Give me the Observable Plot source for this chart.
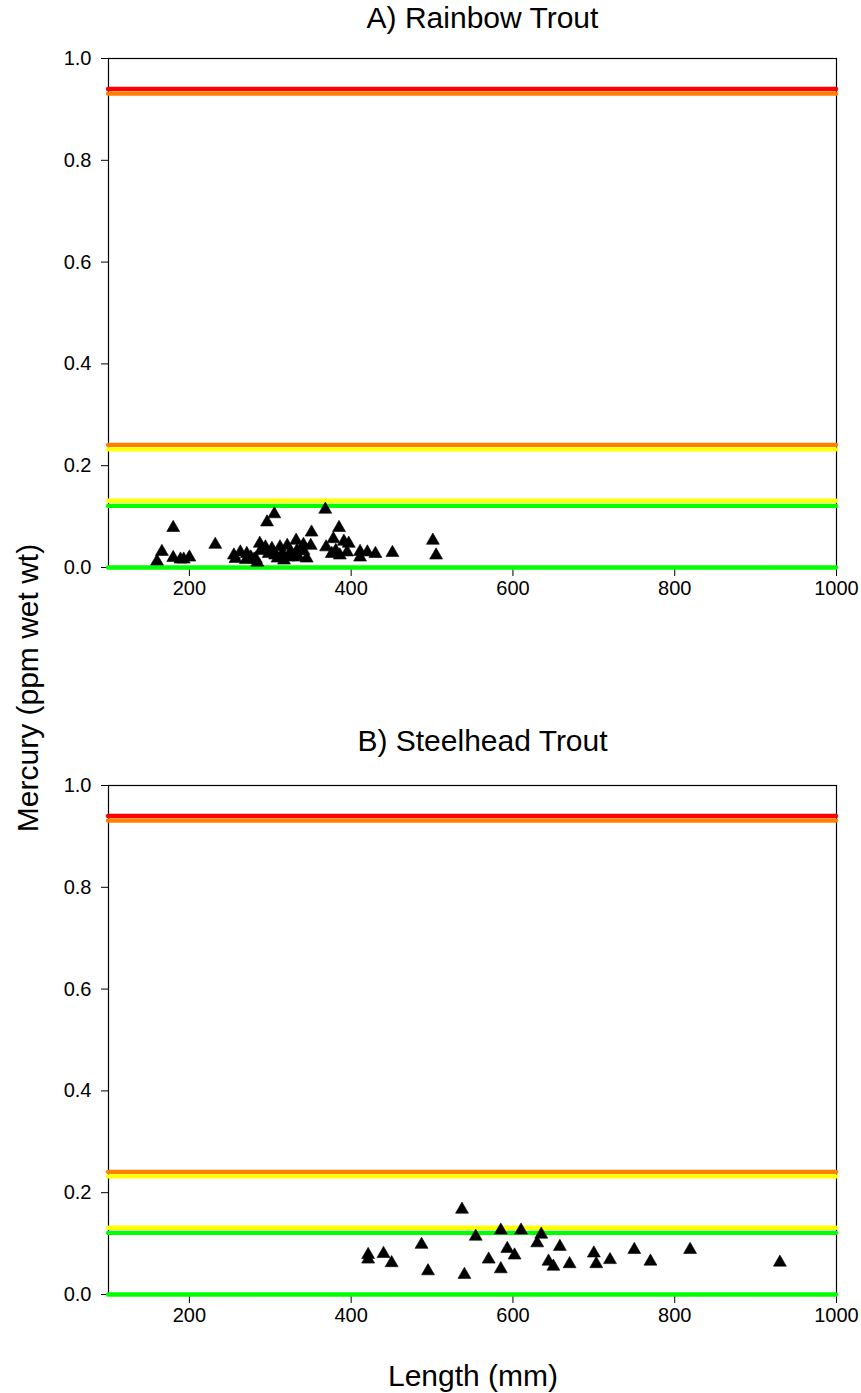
<!DOCTYPE html>
<html>
<head>
<meta charset="utf-8">
<script src="https://cdn.jsdelivr.net/npm/d3@7"></script>
<script src="https://cdn.jsdelivr.net/npm/@observablehq/plot@0.6"></script>
<style>
  body { margin: 0; background: #fff; }
  #wrap { position: relative; width: 861px; height: 1393px; font-family: "Liberation Sans", Arial, sans-serif; color: #000; }
  .panel { position: absolute; left: 0; }
  .title { position: absolute; left: 0; width: 861px; padding-left: 104px; box-sizing: border-box; text-align: center; font-size: 30px; line-height: 1; }
  .xlab { position: absolute; left: 0; width: 861px; padding-left: 85px; box-sizing: border-box; text-align: center; font-size: 30px; line-height: 1; }
  .ylab { position: absolute; font-size: 30px; line-height: 1; white-space: nowrap; transform: translate(-50%, -50%) rotate(-90deg); }
</style>
</head>
<body>
<div id="wrap"></div>
<script>
// threshold lines
const thresholdValues = [0.94, 0.931, 0.241, 0.232, 0.131, 0.121, 0.0];
const thresholdColors = ["#ff0000", "#ff8000", "#ff8000", "#ffff00", "#ffff00", "#00ff00", "#00ff00"];

// A) Rainbow Trout
const rainbowLength = [160,166,180,180,189,193,200,232,255,257,263,270,271,276,280,282,284,287,288,294,296,298,302,305,306,309,312,315,317,321,322,325,327,332,333,335,341,341,345,350,351,368,369,376,378,381,385,386,391,395,397,411,411,420,430,451,501,505];
const rainbowHg = [0.012,0.031,0.078,0.019,0.016,0.016,0.020,0.045,0.024,0.017,0.030,0.015,0.027,0.020,0.016,0.017,0.010,0.047,0.033,0.040,0.089,0.027,0.037,0.105,0.024,0.018,0.040,0.027,0.014,0.043,0.020,0.030,0.022,0.053,0.033,0.020,0.045,0.033,0.018,0.043,0.069,0.114,0.040,0.027,0.056,0.033,0.078,0.024,0.051,0.030,0.047,0.031,0.020,0.030,0.027,0.029,0.053,0.024];

// B) Steelhead Trout
const steelLength = [421,421,440,450,487,495,537,540,554,570,585,585,593,602,610,630,635,644,650,658,670,700,703,720,750,770,819,930];
const steelHg = [0.078,0.069,0.080,0.062,0.098,0.046,0.167,0.039,0.114,0.069,0.126,0.050,0.090,0.077,0.126,0.101,0.118,0.065,0.055,0.094,0.060,0.081,0.060,0.068,0.088,0.065,0.088,0.063];

const xTicks = [200, 400, 600, 800, 1000];
const yTicks = [0, 0.2, 0.4, 0.6, 0.8, 1.0];
const titles = ["A) Rainbow Trout", "B) Steelhead Trout"];

const lines = thresholdValues.map((v, i) => ({value: v, color: thresholdColors[i]}));

function panel(xs, ys) {
  const pts = xs.map((x, i) => ({x, y: ys[i]}));
  return Plot.plot({
    width: 861,
    height: 620,
    marginTop: 58,
    marginBottom: 53,
    marginLeft: 108,
    marginRight: 25,
    style: {fontFamily: "'Liberation Sans', Arial, sans-serif", fontSize: "20px", overflow: "visible", background: "transparent"},
    x: {domain: [100, 1000]},
    y: {domain: [0, 1]},
    color: {type: "identity"},
    marks: [
      Plot.frame({stroke: "#000", strokeWidth: 1.2}),
      Plot.axisY({ticks: yTicks, tickFormat: ".1f", tickSize: 7, tickPadding: 10, label: null, stroke: "#000"}),
      Plot.axisX({ticks: xTicks, tickFormat: d => String(d), tickSize: 9, tickPadding: 4, label: null, stroke: "#000"}),
      Plot.ruleY(lines, {y: "value", stroke: "color", strokeWidth: 4.4, strokeLinecap: "round"}),
      Plot.dot(pts, {x: "x", y: "y", symbol: "triangle", r: 4.8, fill: "#000", stroke: "#000", strokeWidth: 0.6})
    ]
  });
}

const wrap = document.getElementById("wrap");
const tops = [0, 727];
const data = [[rainbowLength, rainbowHg], [steelLength, steelHg]];
const titleY = [3, 726];
data.forEach((d, i) => {
  const t = document.createElement("div");
  t.className = "title";
  t.style.top = titleY[i] + "px";
  t.textContent = titles[i];
  wrap.appendChild(t);
  const svg = panel(d[0], d[1]);
  svg.classList.add("panel");
  svg.style.top = tops[i] + "px";
  wrap.appendChild(svg);
});
const xl = document.createElement("div");
xl.className = "xlab";
xl.style.top = "1361px";
xl.textContent = "Length (mm)";
wrap.appendChild(xl);
const yl = document.createElement("div");
yl.className = "ylab";
yl.style.left = "28px";
yl.style.top = "688px";
yl.textContent = "Mercury (ppm wet wt)";
wrap.appendChild(yl);
</script>
</body>
</html>
